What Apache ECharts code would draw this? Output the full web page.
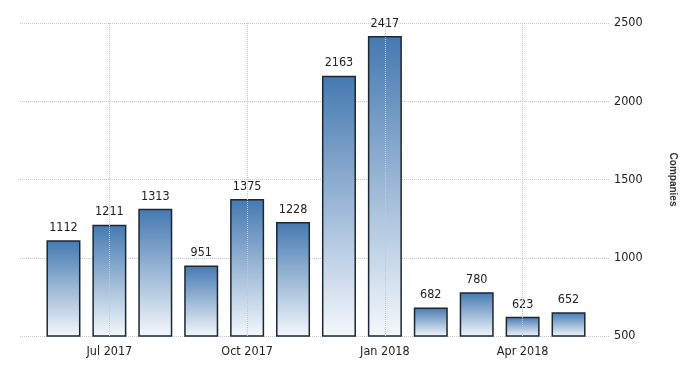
<!DOCTYPE html>
<html>
<head>
<meta charset="utf-8">
<script src="https://cdn.jsdelivr.net/npm/echarts@6/dist/echarts.min.js"></script>
<style>html,body{margin:0;padding:0;background:#fff}#c{width:700px;height:375px}</style>
</head>
<body>
<div id="c"></div>
<script>
const categories = ['Jun 2017','Jul 2017','Aug 2017','Sep 2017','Oct 2017','Nov 2017','Dec 2017','Jan 2018','Feb 2018','Mar 2018','Apr 2018','May 2018'];
const values = [1112, 1211, 1313, 951, 1375, 1228, 2163, 2417, 682, 780, 623, 652];
const shownLabels = ['Jul 2017','Oct 2017','Jan 2018','Apr 2018'];
const yTicks = [500, 1000, 1500, 2000, 2500];
const yName = 'Companies';

const FONT = "'DejaVu Sans Condensed', 'Liberation Sans Narrow', Arial, sans-serif";
const chart = echarts.init(document.getElementById('c'), null, {renderer: 'canvas'});
chart.setOption({
  animation: false,
  backgroundColor: '#fff',
  grid: [
    {left: 20, right: 90, top: 23, bottom: 39},
    {left: 40.5, right: 108.5, top: 23, bottom: 39}
  ],
  xAxis: [
    {gridIndex: 0, type: 'value', show: false, min: 0, max: 1},
    {gridIndex: 1, type: 'category', data: categories, boundaryGap: true,
     axisLine: {show: false}, axisTick: {show: false}, splitLine: {show: false},
     axisLabel: {interval: function(i, v){ return shownLabels.indexOf(v) >= 0; },
                 color: '#222', fontFamily: FONT, fontSize: 12.5, margin: 9}}
  ],
  yAxis: [
    {gridIndex: 0, type: 'value', position: 'right', min: yTicks[0], max: yTicks[yTicks.length-1], interval: 500,
     axisLine: {show: false}, axisTick: {show: false},
     axisLabel: {color: '#222', fontFamily: FONT, fontSize: 12.5, margin: 4, formatter: function(v){ return String(v); }},
     splitLine: {show: true, lineStyle: {color: '#c8c8c8', type: 'dotted', width: 1}},
     name: yName, nameLocation: 'middle', nameRotate: -90, nameGap: 58,
     nameTextStyle: {color: '#333', fontFamily: "Arial, 'Liberation Sans', sans-serif", fontSize: 10, fontWeight: 'bold'}},
    {gridIndex: 1, type: 'value', show: false, min: yTicks[0], max: yTicks[yTicks.length-1], interval: 500,
     splitLine: {show: false}}
  ],
  series: [{
    type: 'line', xAxisIndex: 1, yAxisIndex: 1, data: [], z: 1, silent: true,
    markLine: {
      silent: true, symbol: 'none', label: {show: false},
      lineStyle: {color: '#c8c8c8', type: 'dotted', width: 1},
      data: shownLabels.map(function(c){ return {xAxis: c}; })
    }
  }, {
    type: 'bar', xAxisIndex: 1, yAxisIndex: 1,
    data: values, barWidth: 34,
    itemStyle: {
      borderColor: '#1c2733', borderWidth: 1.5,
      color: new echarts.graphic.LinearGradient(0, 0, 0, 1, [
        {offset: 0, color: '#4479b0'},
        {offset: 1, color: '#f4f8fc'}
      ])
    },
    label: {show: true, position: 'top', distance: 6, color: '#222', fontFamily: FONT, fontSize: 12.5},
    z: 3
  }]
});
</script>
</body>
</html>
